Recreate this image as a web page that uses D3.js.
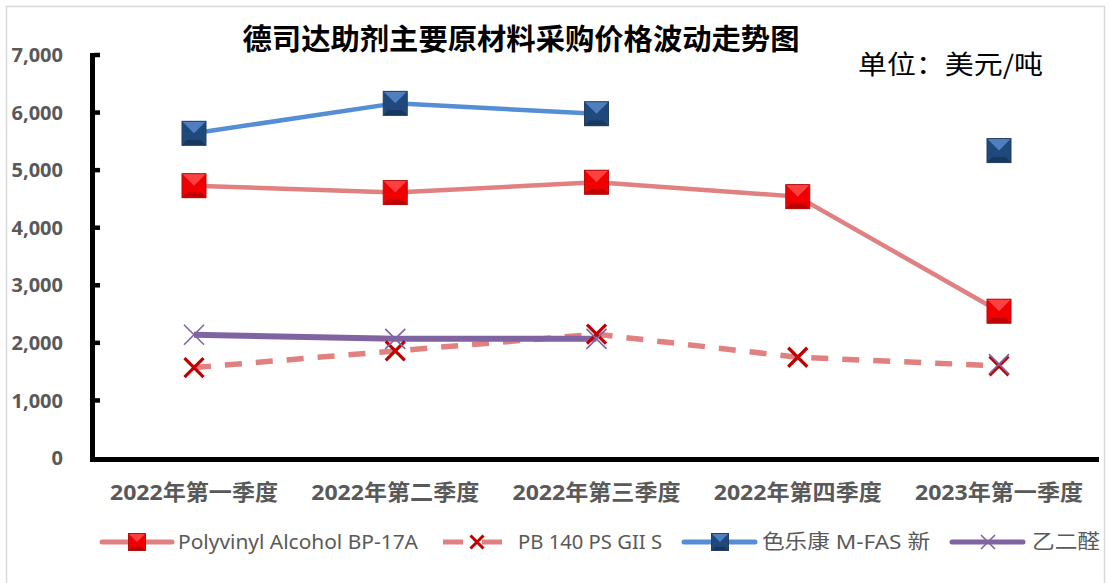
<!DOCTYPE html>
<html>
<head>
<meta charset="utf-8">
<script src="https://cdn.jsdelivr.net/npm/d3@7"></script>
<style>
  body { margin: 0; background: #fff; }
  text { font-family: "Noto Sans", "Noto Sans CJK SC", sans-serif; }
</style>
</head>
<body>
<script>
'use strict';

// chart data
const quarters = ['2022年第一季度', '2022年第二季度', '2022年第三季度', '2022年第四季度', '2023年第一季度'];
const pvaValues = [4730, 4610, 4790, 4540, 2550];
const pbValues = [1570, 1860, 2150, 1750, 1600];
const mfasValues = [5640, 6160, 5980, null, 5340];
const glyoxalValues = [2140, 2070, 2070, null, 1630];
const yTicks = [0, 1000, 2000, 3000, 4000, 5000, 6000, 7000];
const seriesNames = ['Polyvinyl Alcohol BP-17A', 'PB 140 PS GII S', '色乐康 M-FAS 新', '乙二醛'];

(function() {
    const svg = d3.select('body').append('svg')
        .attr('width', 1110)
        .attr('height', 583);

    // chart border
    svg.append('rect')
        .attr('x', 6.5).attr('y', 6.5)
        .attr('width', 1098).attr('height', 600)
        .attr('fill', 'none')
        .attr('stroke', '#d9d9d9')
        .attr('stroke-width', 1.5);

    let x = d3.scalePoint()
        .domain(quarters)
        .range([194, 999]);

    let y = d3.scaleLinear()
        .domain([0, 7000])
        .range([458, 55]);

    // axes
    svg.append('line')
        .attr('x1', 92.5).attr('x2', 92.5)
        .attr('y1', 53).attr('y2', 462)
        .attr('stroke', '#000').attr('stroke-width', 5);
    svg.append('line')
        .attr('x1', 90).attr('x2', 1099)
        .attr('y1', 459.5).attr('y2', 459.5)
        .attr('stroke', '#000').attr('stroke-width', 5);

    svg.selectAll('.ytick')
        .data(yTicks.filter(d => d > 0))
        .enter()
        .append('line')
        .attr('x1', 94).attr('x2', 100)
        .attr('y1', d => y(d)).attr('y2', d => y(d))
        .attr('stroke', '#000').attr('stroke-width', 4.5);

    svg.selectAll('.ylabel')
        .data(yTicks)
        .enter()
        .append('text')
        .attr('x', 63)
        .attr('y', d => y(d))
        .attr('dy', '0.36em')
        .attr('text-anchor', 'end')
        .attr('font-size', 20)
        .attr('font-weight', 'bold')
        .attr('fill', '#595959')
        .text(d => d3.format(',')(d));

    svg.selectAll('.xlabel')
        .data(quarters)
        .enter()
        .append('text')
        .attr('x', d => x(d))
        .attr('y', 492)
        .attr('dy', '0.36em')
        .attr('text-anchor', 'middle')
        .attr('font-size', 22)
        .attr('font-weight', 'bold')
        .attr('fill', '#595959')
        .attr('textLength', 168)
        .attr('lengthAdjust', 'spacingAndGlyphs')
        .text(d => d);

    // title and unit
    svg.append('text')
        .attr('x', 521).attr('y', 40)
        .attr('dy', '0.36em')
        .attr('text-anchor', 'middle')
        .attr('font-size', 29)
        .attr('font-weight', 'bold')
        .attr('fill', '#000')
        .style('font-family', '"Noto Sans CJK SC", sans-serif')
        .attr('textLength', 557)
        .attr('lengthAdjust', 'spacingAndGlyphs')
        .text('德司达助剂主要原材料采购价格波动走势图');
    svg.append('text')
        .attr('x', 858).attr('y', 65)
        .attr('dy', '0.36em')
        .attr('font-size', 26)
        .attr('fill', '#000')
        .style('font-family', '"Noto Sans CJK SC", sans-serif')
        .attr('textLength', 185)
        .attr('lengthAdjust', 'spacingAndGlyphs')
        .text('单位：美元/吨');

    // marker drawing helpers
    function bevelSquare(g, cx, cy, s, base, light, dark, edge) {
        let h = s / 2;
        let b = s * 0.22;
        g.append('rect')
            .attr('x', cx - h).attr('y', cy - h)
            .attr('width', s).attr('height', s)
            .attr('fill', base);
        // top facet
        g.append('path')
            .attr('d', `M${cx - h},${cy - h}L${cx + h},${cy - h}L${cx},${cy}Z`)
            .attr('fill', light);
        // bottom facet
        g.append('path')
            .attr('d', `M${cx - h},${cy + h}L${cx + h},${cy + h}L${cx + h - b},${cy + h - b}L${cx - h + b},${cy + h - b}Z`)
            .attr('fill', dark);
        g.append('rect')
            .attr('x', cx - h).attr('y', cy - h)
            .attr('width', s).attr('height', s)
            .attr('fill', 'none')
            .attr('stroke', edge).attr('stroke-width', 1);
    }

    function cross(g, cx, cy, r, color, w) {
        g.append('path')
            .attr('d', `M${cx - r},${cy - r}L${cx + r},${cy + r}M${cx - r},${cy + r}L${cx + r},${cy - r}`)
            .attr('stroke', color)
            .attr('stroke-width', w)
            .attr('fill', 'none');
    }

    const series = [
        { values: pvaValues, color: '#E08080', width: 4.5, dash: null,
          marker: (g, cx, cy) => bevelSquare(g, cx, cy, 24, '#F00000', '#FF4040', '#C00000', '#B01010') },
        { values: pbValues, color: '#E08080', width: 5.5, dash: '17,14',
          marker: (g, cx, cy) => cross(g, cx, cy, 9.5, '#C00000', 3.2) },
        { values: mfasValues, color: '#558ED5', width: 4.5, dash: null,
          marker: (g, cx, cy) => bevelSquare(g, cx, cy, 24, '#1F497D', '#4F7FBF', '#17375E', '#243F60') },
        { values: glyoxalValues, color: '#8064A2', width: 6, dash: null,
          marker: (g, cx, cy) => cross(g, cx, cy, 10, '#8064A2', 1.6) }
    ];

    let line = d3.line()
        .defined(d => d.v != null)
        .x(d => x(d.q))
        .y(d => y(d.v));

    series.forEach(s => {
        let pts = quarters.map((q, i) => ({ q: q, v: s.values[i] }));
        svg.append('path')
            .datum(pts)
            .attr('d', line)
            .attr('fill', 'none')
            .attr('stroke', s.color)
            .attr('stroke-width', s.width)
            .attr('stroke-dasharray', s.dash)
            .attr('stroke-linejoin', 'round');
    });

    series.forEach(s => {
        let g = svg.append('g');
        quarters.forEach((q, i) => {
            if (s.values[i] != null) s.marker(g, x(q), y(s.values[i]));
        });
    });

    // legend
    const legendX = [{ l1: 102, l2: 172, m: 137, t: 178, w: 240 },
                     { l1: 443, l2: 502, m: 477, t: 518, w: 144 },
                     { l1: 684, l2: 755, m: 720, t: 762, w: 168 },
                     { l1: 952, l2: 1023, m: 988, t: 1032, w: 68 }];
    const ly = 542;
    series.forEach((s, i) => {
        let p = legendX[i];
        let g = svg.append('g');
        if (s.dash) {
            g.append('line').attr('x1', p.l1).attr('x2', p.l1 + 20)
                .attr('y1', ly).attr('y2', ly)
                .attr('stroke', s.color).attr('stroke-width', 5);
            g.append('line').attr('x1', p.l2 - 20).attr('x2', p.l2)
                .attr('y1', ly).attr('y2', ly)
                .attr('stroke', s.color).attr('stroke-width', 5);
        } else {
            g.append('line').attr('x1', p.l1).attr('x2', p.l2)
                .attr('y1', ly).attr('y2', ly)
                .attr('stroke', s.color).attr('stroke-width', 5)
                .attr('stroke-linecap', 'round');
        }
        if (i === 0) bevelSquare(g, p.m, ly, 17, '#F00000', '#FF4040', '#C00000', '#B01010');
        else if (i === 1) cross(g, p.m, ly, 6.5, '#C00000', 3);
        else if (i === 2) bevelSquare(g, p.m, ly, 17, '#1F497D', '#4F7FBF', '#17375E', '#243F60');
        else cross(g, p.m, ly, 7, '#8064A2', 1.6);
        g.append('text')
            .attr('x', p.t).attr('y', ly)
            .attr('dy', '0.36em')
            .attr('font-size', 20)
            .attr('fill', '#595959')
            .attr('textLength', p.w)
            .attr('lengthAdjust', 'spacingAndGlyphs')
            .text(seriesNames[i]);
    });
})();
</script>
</body>
</html>
